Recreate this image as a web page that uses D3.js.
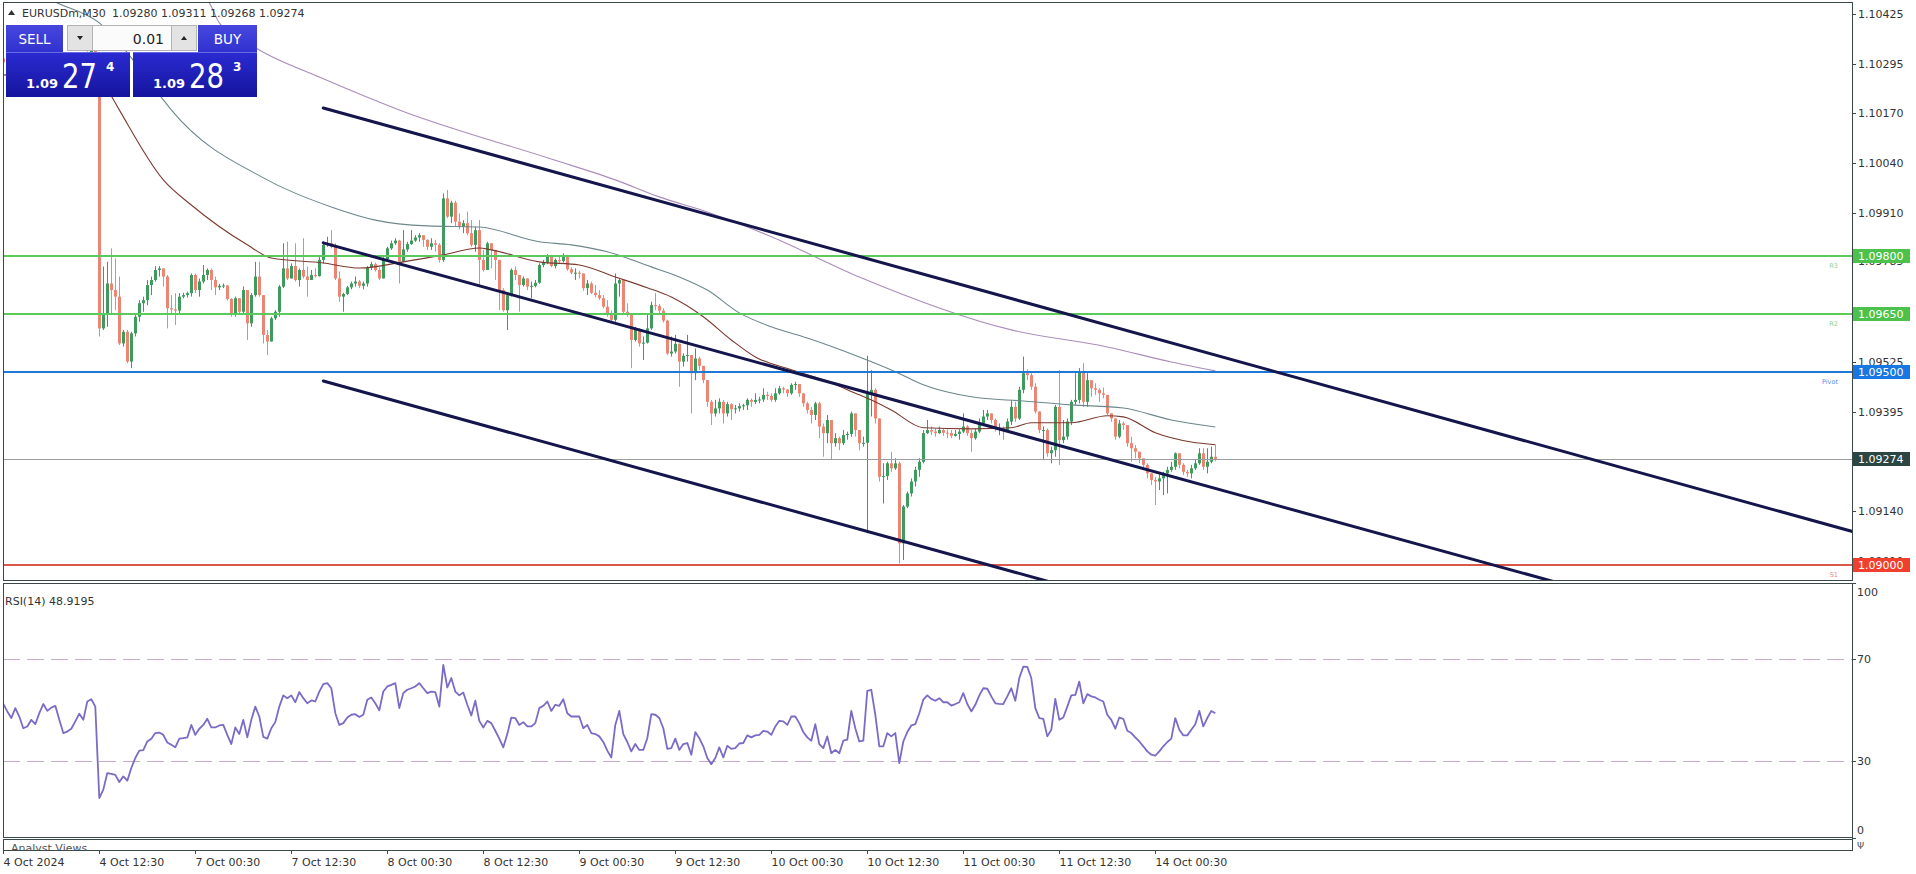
<!DOCTYPE html>
<html><head><meta charset="utf-8">
<script src="https://cdn.jsdelivr.net/npm/d3@7"></script>
<style>
html,body{margin:0;padding:0;background:#fff;overflow:hidden}
svg{display:block}
text{font-family:"DejaVu Sans",sans-serif}
</style></head><body>
<svg id="c" width="1916" height="874"></svg>
<script>
// ---------------- DATA ----------------
const symbol = "EURUSDm,M30";
const bid = "1.09274", ask = "1.09283", lot = "0.01";
const rsiLabel = "RSI(14) 48.9195";
const timeLabels = ["4 Oct 2024","4 Oct 12:30","7 Oct 00:30","7 Oct 12:30","8 Oct 00:30","8 Oct 12:30","9 Oct 00:30","9 Oct 12:30","10 Oct 00:30","10 Oct 12:30","11 Oct 00:30","11 Oct 12:30","14 Oct 00:30"];
const timeBars = [0,24,48,72,96,120,144,168,192,216,240,264,288];
const priceTicks = [1.10425,1.10295,1.10170,1.10040,1.09910,1.09785,1.09525,1.09395,1.09140,1.09010];
const rsiTicks = [100,70,30,0];
const rsiLevels = [70,30];
const levelPrices = [1.09800,1.09650,1.09500,1.09274,1.09000];
const levelTags = ["R3","R2","Pivot","","S1"];

const open = [
1.10310,1.10300,1.10285,1.10270,1.10290,1.10275,1.10240,1.10245,1.10265,1.10255,
1.10285,1.10310,1.10295,1.10305,1.10310,1.10275,1.10235,1.10240,1.10250,1.10270,
1.10290,1.10275,1.10320,1.10330,1.10315,1.09612,1.09651,1.09728,1.09711,1.09694,
1.09573,1.09603,1.09526,1.09599,1.09642,1.09677,1.09685,1.09724,1.09737,1.09763,
1.09767,1.09746,1.09664,1.09661,1.09658,1.09694,1.09698,1.09703,1.09750,1.09711,
1.09733,1.09750,1.09763,1.09737,1.09718,1.09722,1.09723,1.09688,1.09647,1.09690,
1.09655,1.09711,1.09625,1.09698,1.09746,1.09698,1.09595,1.09578,1.09638,1.09655,
1.09720,1.09767,1.09741,1.09773,1.09737,1.09763,1.09746,1.09737,1.09750,1.09747,
1.09789,1.09828,1.09832,1.09823,1.09741,1.09694,1.09701,1.09718,1.09728,1.09733,
1.09722,1.09728,1.09770,1.09778,1.09763,1.09741,1.09791,1.09819,1.09832,1.09839,
1.09784,1.09816,1.09830,1.09839,1.09847,1.09853,1.09841,1.09823,1.09832,1.09828,
1.09789,1.09948,1.09901,1.09937,1.09888,1.09875,1.09884,1.09858,1.09828,1.09866,
1.09789,1.09763,1.09832,1.09815,1.09789,1.09711,1.09659,1.09698,1.09763,1.09750,
1.09724,1.09741,1.09720,1.09722,1.09730,1.09776,1.09782,1.09797,1.09773,1.09789,
1.09786,1.09802,1.09765,1.09756,1.09756,1.09754,1.09716,1.09728,1.09704,1.09698,
1.09690,1.09668,1.09647,1.09634,1.09728,1.09737,1.09655,1.09647,1.09582,1.09608,
1.09573,1.09575,1.09612,1.09672,1.09670,1.09658,1.09632,1.09547,1.09552,1.09572,
1.09526,1.09541,1.09543,1.09496,1.09534,1.09515,1.09478,1.09422,1.09392,1.09405,
1.09422,1.09392,1.09416,1.09403,1.09405,1.09411,1.09413,1.09427,1.09422,1.09427,
1.09428,1.09440,1.09437,1.09427,1.09444,1.09457,1.09454,1.09444,1.09466,1.09468,
1.09444,1.09418,1.09401,1.09388,1.09418,1.09358,1.09341,1.09375,1.09315,1.09328,
1.09315,1.09336,1.09339,1.09392,1.09349,1.09315,1.09316,1.09444,1.09453,1.09379,
1.09228,1.09230,1.09263,1.09250,1.09263,1.09056,1.09151,1.09185,1.09216,1.09246,
1.09267,1.09341,1.09349,1.09345,1.09341,1.09349,1.09342,1.09341,1.09334,1.09339,
1.09345,1.09358,1.09341,1.09328,1.09345,1.09366,1.09384,1.09392,1.09375,1.09353,
1.09353,1.09349,1.09371,1.09409,1.09379,1.09453,1.09496,1.09491,1.09461,1.09397,
1.09349,1.09349,1.09289,1.09297,1.09409,1.09323,1.09332,1.09371,1.09422,1.09427,
1.09500,1.09422,1.09478,1.09457,1.09453,1.09444,1.09440,1.09392,1.09379,1.09332,
1.09366,1.09362,1.09315,1.09302,1.09293,1.09276,1.09259,1.09237,1.09220,1.09216,
1.09224,1.09237,1.09246,1.09254,1.09289,1.09259,1.09241,1.09237,1.09250,1.09263,
1.09289,1.09254,1.09267,1.09280];

const high = [
1.10318,1.10310,1.10292,1.10300,1.10296,1.10280,1.10262,1.10275,1.10272,1.10292,
1.10318,1.10316,1.10312,1.10322,1.10315,1.10280,1.10255,1.10262,1.10278,1.10298,
1.10296,1.10328,1.10342,1.10336,1.10320,1.09772,1.09784,1.09819,1.09793,1.09746,
1.09608,1.09608,1.09603,1.09647,1.09685,1.09694,1.09737,1.09746,1.09773,1.09773,
1.09767,1.09750,1.09698,1.09703,1.09703,1.09704,1.09707,1.09754,1.09754,1.09741,
1.09776,1.09767,1.09767,1.09746,1.09727,1.09728,1.09724,1.09690,1.09694,1.09690,
1.09720,1.09711,1.09703,1.09784,1.09784,1.09698,1.09608,1.09642,1.09659,1.09724,
1.09832,1.09836,1.09780,1.09832,1.09767,1.09845,1.09772,1.09763,1.09767,1.09797,
1.09836,1.09849,1.09866,1.09832,1.09759,1.09704,1.09722,1.09733,1.09746,1.09737,
1.09733,1.09773,1.09784,1.09782,1.09770,1.09796,1.09823,1.09839,1.09845,1.09841,
1.09866,1.09836,1.09866,1.09853,1.09858,1.09853,1.09842,1.09845,1.09841,1.09832,
1.09961,1.09970,1.09942,1.09942,1.09909,1.09892,1.09914,1.09892,1.09875,1.09892,
1.09815,1.09836,1.09832,1.09815,1.09789,1.09716,1.09703,1.09767,1.09772,1.09750,
1.09746,1.09741,1.09733,1.09737,1.09780,1.09789,1.09804,1.09797,1.09793,1.09797,
1.09806,1.09797,1.09770,1.09767,1.09761,1.09754,1.09737,1.09733,1.09724,1.09711,
1.09698,1.09685,1.09659,1.09754,1.09741,1.09733,1.09677,1.09651,1.09616,1.09612,
1.09591,1.09651,1.09681,1.09703,1.09675,1.09664,1.09634,1.09591,1.09595,1.09573,
1.09547,1.09595,1.09539,1.09560,1.09539,1.09513,1.09478,1.09427,1.09427,1.09431,
1.09427,1.09422,1.09418,1.09414,1.09418,1.09417,1.09431,1.09431,1.09444,1.09435,
1.09457,1.09448,1.09444,1.09457,1.09463,1.09461,1.09452,1.09470,1.09474,1.09466,
1.09444,1.09422,1.09409,1.09422,1.09422,1.09366,1.09388,1.09375,1.09341,1.09332,
1.09349,1.09345,1.09397,1.09388,1.09349,1.09332,1.09541,1.09504,1.09457,1.09379,
1.09263,1.09267,1.09293,1.09276,1.09267,1.09155,1.09190,1.09224,1.09254,1.09276,
1.09349,1.09375,1.09358,1.09353,1.09358,1.09353,1.09351,1.09349,1.09349,1.09351,
1.09392,1.09362,1.09349,1.09353,1.09379,1.09401,1.09401,1.09392,1.09379,1.09366,
1.09358,1.09379,1.09427,1.09422,1.09461,1.09539,1.09506,1.09500,1.09470,1.09397,
1.09358,1.09353,1.09306,1.09414,1.09504,1.09375,1.09379,1.09427,1.09496,1.09509,
1.09522,1.09496,1.09474,1.09470,1.09457,1.09459,1.09435,1.09392,1.09379,1.09375,
1.09371,1.09362,1.09332,1.09310,1.09293,1.09272,1.09263,1.09237,1.09228,1.09237,
1.09241,1.09254,1.09267,1.09291,1.09289,1.09263,1.09246,1.09259,1.09272,1.09302,
1.09302,1.09302,1.09306,1.09311];

const low = [
1.10276,1.10270,1.10258,1.10262,1.10265,1.10232,1.10228,1.10240,1.10246,1.10250,
1.10280,1.10288,1.10290,1.10298,1.10268,1.10226,1.10225,1.10230,1.10244,1.10262,
1.10270,1.10272,1.10318,1.10308,1.09591,1.09608,1.09616,1.09651,1.09659,1.09569,
1.09565,1.09522,1.09509,1.09591,1.09629,1.09655,1.09672,1.09698,1.09733,1.09746,
1.09720,1.09612,1.09651,1.09621,1.09651,1.09690,1.09692,1.09694,1.09703,1.09694,
1.09728,1.09737,1.09711,1.09698,1.09711,1.09716,1.09684,1.09642,1.09642,1.09651,
1.09651,1.09582,1.09616,1.09694,1.09694,1.09573,1.09543,1.09578,1.09634,1.09642,
1.09716,1.09737,1.09741,1.09733,1.09720,1.09741,1.09694,1.09737,1.09744,1.09746,
1.09780,1.09823,1.09819,1.09737,1.09681,1.09655,1.09698,1.09713,1.09720,1.09716,
1.09713,1.09720,1.09763,1.09759,1.09737,1.09741,1.09787,1.09815,1.09828,1.09728,
1.09784,1.09810,1.09828,1.09836,1.09836,1.09823,1.09815,1.09815,1.09810,1.09782,
1.09784,1.09897,1.09884,1.09875,1.09868,1.09858,1.09853,1.09823,1.09810,1.09720,
1.09759,1.09772,1.09767,1.09737,1.09659,1.09655,1.09608,1.09694,1.09737,1.09655,
1.09720,1.09711,1.09690,1.09718,1.09727,1.09770,1.09778,1.09770,1.09767,1.09780,
1.09782,1.09761,1.09752,1.09737,1.09741,1.09709,1.09698,1.09701,1.09692,1.09685,
1.09664,1.09642,1.09629,1.09629,1.09694,1.09651,1.09642,1.09509,1.09578,1.09565,
1.09530,1.09573,1.09608,1.09659,1.09651,1.09627,1.09543,1.09539,1.09547,1.09461,
1.09513,1.09526,1.09392,1.09478,1.09504,1.09470,1.09409,1.09362,1.09384,1.09392,
1.09366,1.09384,1.09375,1.09392,1.09397,1.09401,1.09401,1.09409,1.09416,1.09418,
1.09422,1.09427,1.09422,1.09422,1.09440,1.09444,1.09435,1.09440,1.09453,1.09435,
1.09409,1.09392,1.09366,1.09375,1.09328,1.09280,1.09315,1.09272,1.09306,1.09297,
1.09310,1.09324,1.09332,1.09332,1.09297,1.09306,1.09082,1.09384,1.09366,1.09216,
1.09159,1.09220,1.09241,1.09246,1.09004,1.09013,1.09147,1.09177,1.09203,1.09228,
1.09263,1.09339,1.09336,1.09332,1.09339,1.09334,1.09328,1.09328,1.09332,1.09324,
1.09341,1.09334,1.09293,1.09324,1.09341,1.09362,1.09375,1.09366,1.09345,1.09336,
1.09324,1.09345,1.09362,1.09370,1.09375,1.09444,1.09478,1.09453,1.09392,1.09341,
1.09272,1.09280,1.09263,1.09280,1.09259,1.09315,1.09324,1.09362,1.09414,1.09418,
1.09409,1.09409,1.09435,1.09440,1.09422,1.09431,1.09388,1.09370,1.09324,1.09328,
1.09349,1.09306,1.09267,1.09276,1.09263,1.09246,1.09224,1.09207,1.09155,1.09194,
1.09181,1.09185,1.09241,1.09246,1.09250,1.09233,1.09228,1.09224,1.09246,1.09259,
1.09246,1.09237,1.09263,1.09268];

const close = [
1.10300,1.10285,1.10270,1.10290,1.10275,1.10240,1.10245,1.10265,1.10255,1.10285,
1.10310,1.10295,1.10305,1.10310,1.10275,1.10235,1.10240,1.10250,1.10270,1.10290,
1.10275,1.10320,1.10330,1.10315,1.09612,1.09651,1.09728,1.09711,1.09694,1.09573,
1.09603,1.09526,1.09599,1.09642,1.09677,1.09685,1.09724,1.09737,1.09763,1.09767,
1.09746,1.09664,1.09661,1.09658,1.09694,1.09698,1.09703,1.09750,1.09711,1.09733,
1.09750,1.09763,1.09737,1.09718,1.09722,1.09723,1.09688,1.09647,1.09690,1.09655,
1.09711,1.09625,1.09698,1.09746,1.09698,1.09595,1.09578,1.09638,1.09655,1.09720,
1.09767,1.09741,1.09773,1.09737,1.09763,1.09746,1.09737,1.09750,1.09747,1.09789,
1.09828,1.09832,1.09823,1.09741,1.09694,1.09701,1.09718,1.09728,1.09733,1.09722,
1.09728,1.09770,1.09778,1.09763,1.09741,1.09791,1.09819,1.09832,1.09839,1.09784,
1.09816,1.09830,1.09839,1.09847,1.09853,1.09841,1.09823,1.09832,1.09828,1.09789,
1.09948,1.09901,1.09937,1.09888,1.09875,1.09884,1.09858,1.09828,1.09866,1.09789,
1.09763,1.09832,1.09815,1.09789,1.09711,1.09659,1.09698,1.09763,1.09750,1.09724,
1.09741,1.09720,1.09722,1.09730,1.09776,1.09782,1.09797,1.09773,1.09789,1.09786,
1.09802,1.09765,1.09756,1.09756,1.09754,1.09716,1.09728,1.09704,1.09698,1.09690,
1.09668,1.09647,1.09634,1.09728,1.09737,1.09655,1.09647,1.09582,1.09608,1.09573,
1.09575,1.09612,1.09672,1.09670,1.09658,1.09632,1.09547,1.09552,1.09572,1.09526,
1.09541,1.09543,1.09496,1.09534,1.09515,1.09478,1.09422,1.09392,1.09405,1.09422,
1.09392,1.09416,1.09403,1.09405,1.09411,1.09413,1.09427,1.09422,1.09427,1.09428,
1.09440,1.09437,1.09427,1.09444,1.09457,1.09454,1.09444,1.09466,1.09468,1.09444,
1.09418,1.09401,1.09388,1.09418,1.09358,1.09341,1.09375,1.09315,1.09328,1.09315,
1.09336,1.09339,1.09392,1.09349,1.09315,1.09316,1.09444,1.09453,1.09379,1.09228,
1.09230,1.09263,1.09250,1.09263,1.09056,1.09151,1.09185,1.09216,1.09246,1.09267,
1.09341,1.09349,1.09345,1.09341,1.09349,1.09342,1.09341,1.09334,1.09339,1.09345,
1.09358,1.09341,1.09328,1.09345,1.09366,1.09384,1.09392,1.09375,1.09353,1.09353,
1.09349,1.09371,1.09409,1.09379,1.09453,1.09496,1.09491,1.09461,1.09397,1.09349,
1.09349,1.09289,1.09297,1.09409,1.09323,1.09332,1.09371,1.09422,1.09427,1.09500,
1.09422,1.09478,1.09457,1.09453,1.09444,1.09440,1.09392,1.09379,1.09332,1.09366,
1.09362,1.09315,1.09302,1.09293,1.09276,1.09259,1.09237,1.09220,1.09216,1.09224,
1.09237,1.09246,1.09254,1.09289,1.09259,1.09241,1.09237,1.09250,1.09263,1.09289,
1.09254,1.09267,1.09280,1.09274];

const rsi = [
52.4,49.5,46.9,50.8,47.5,42.9,43.6,46.2,44.5,48.8,
52.4,49.7,51.0,51.7,46.2,41.0,41.6,42.7,45.6,48.6,
46.2,53.4,54.3,51.4,15.5,18.8,25.3,25.0,24.6,21.8,
24.0,22.3,27.3,31.2,34.1,34.3,37.7,38.8,41.0,41.2,
40.3,37.3,36.4,35.4,38.8,39.0,39.3,44.2,40.3,42.7,
44.2,46.6,43.2,43.2,44.0,44.2,40.3,36.7,43.2,40.6,
46.2,39.3,46.2,51.4,47.5,39.5,38.8,42.9,45.3,51.4,
55.8,54.7,55.8,53.1,57.1,54.7,52.7,53.8,53.4,57.3,
60.2,60.6,58.6,48.8,44.2,44.9,47.1,48.2,48.4,47.3,
48.2,54.1,55.0,52.7,49.9,57.3,59.3,59.9,60.6,50.8,
56.7,58.0,58.6,59.3,60.6,58.6,56.7,57.3,57.1,51.4,
67.8,58.9,62.6,57.3,55.8,56.9,52.1,47.9,53.7,45.8,
43.2,45.8,44.9,41.9,38.8,35.4,40.6,47.1,46.9,44.2,
45.3,43.6,43.6,44.9,50.8,51.7,53.4,49.7,52.1,51.7,
54.3,48.8,47.5,47.5,47.5,42.9,44.2,41.0,40.6,39.7,
37.5,34.1,31.4,44.2,49.7,40.6,37.5,33.8,36.7,34.4,
34.4,39.0,48.4,48.2,46.9,42.9,34.8,35.1,38.8,34.4,
36.7,37.1,32.5,41.4,39.0,35.8,31.2,28.8,31.2,35.4,
31.4,36.0,34.8,35.1,36.9,37.1,40.1,39.3,40.1,40.3,
41.9,41.6,40.3,43.6,45.8,45.6,44.2,47.5,47.5,44.9,
41.4,39.3,38.0,44.5,36.7,35.1,39.7,33.1,34.4,33.1,
38.0,38.4,49.7,42.9,37.7,38.0,57.6,58.0,48.2,35.8,
35.8,41.0,39.7,41.0,29.2,37.7,41.4,44.0,44.5,48.8,
54.1,55.8,54.4,53.7,54.7,53.1,53.1,51.8,52.4,53.1,
56.7,52.4,49.5,52.1,55.8,58.6,58.4,55.4,52.7,52.5,
52.4,55.4,58.6,53.7,62.6,67.1,67.0,62.6,50.8,46.9,
46.6,39.7,42.3,54.4,46.2,47.1,51.4,55.8,56.0,61.2,
52.7,56.3,55.4,55.0,54.1,53.4,48.2,46.2,42.7,47.1,
46.6,41.9,41.0,39.3,37.7,35.8,33.8,32.5,32.1,33.8,
35.8,37.5,38.8,46.9,42.3,40.1,40.1,42.3,44.5,49.7,
43.6,46.9,49.7,48.8];

// moving averages: [bar index, price]
const maFast = [[0,1.10267],[23,1.10280],[27,1.10213],[29,1.10177],[40,1.09996],[47,1.09931],[61,1.09828],[67,1.09794],[80,1.09781],[89,1.09768],[100,1.09784],[110,1.09802],[119,1.09820],[122,1.09815],[134,1.09784],[144,1.09776],[153,1.09745],[161,1.09717],[167,1.09693],[175,1.09642],[182,1.09582],[188,1.09538],[197,1.09505],[205,1.09479],[214,1.09440],[217,1.09427],[222,1.09401],[230,1.09355],[242,1.09352],[252,1.09355],[257,1.09368],[267,1.09368],[276,1.09386],[280,1.09383],[288,1.09342],[297,1.09318],[303,1.09311]];
const maMid = [[0,1.10539],[12,1.10461],[24,1.10402],[40,1.10203],[42,1.10177],[66,1.09996],[82,1.09926],[93,1.09892],[106,1.09877],[119,1.09874],[134,1.09836],[142,1.09828],[151,1.09810],[162,1.09771],[169,1.09745],[176,1.09711],[184,1.09652],[192,1.09616],[201,1.09587],[214,1.09538],[223,1.09500],[230,1.09466],[242,1.09435],[255,1.09424],[267,1.09414],[280,1.09406],[292,1.09375],[303,1.09357]];
const maSlow = [[0,1.10694],[40,1.10512],[51,1.10461],[54,1.10402],[64,1.10332],[79,1.10262],[99,1.10177],[137,1.10050],[153,1.09996],[164,1.09952],[176,1.09913],[192,1.09849],[214,1.09745],[252,1.09608],[276,1.09564],[292,1.09525],[303,1.09502]];

// channel trend lines: two anchors each [bar index, price]
const channelUpper = [[80,1.10182],[303,1.09543]];
const channelMiddle = [[80,1.09833],[303,1.09198]];
const channelLower = [[80,1.09476],[303,1.08838]];

// ---------------- STYLE / LAYOUT ----------------
const L = 3, R = 1852, MT = 2, MB = 580, RT = 583, RB = 837, P3T = 839, P3B = 850;
const FRAME = "#3a4848", TXT = "#333";
const UP = "#3d9b5e", DN = "#ec8573";
const levelStyle = [
  {line:"#5cc95c", box:"#4cc24c", w:2, tag:"#8fd08f"},
  {line:"#5cc95c", box:"#4cc24c", w:2, tag:"#8fd08f"},
  {line:"#1f78d6", box:"#1877e0", w:2, tag:"#4a8fe0"},
  {line:"#9a9e9e", box:"#2b4541", w:1, tag:"#999"},
  {line:"#d9574b", box:"#f03e2f", w:2, tag:"#e08a80"}
];

const svg = d3.select("#c");
const defs = svg.append("defs");
defs.append("clipPath").attr("id","clipMain").append("rect").attr("x",L).attr("y",MT).attr("width",R-L).attr("height",MB-MT);
defs.append("clipPath").attr("id","clipRsi").append("rect").attr("x",L).attr("y",RT).attr("width",R-L).attr("height",RB-RT);
defs.append("clipPath").attr("id","clipP3").append("rect").attr("x",L).attr("y",P3T).attr("width",R-L).attr("height",P3B-P3T);

const x = d3.scaleLinear().domain([0,303]).range([3.3,1215.3]);
const bx = j => Math.round(x(j));
const y = d3.scaleLinear().domain([1.09000,1.10425]).range([565,14]);
const yr = d3.scaleLinear().domain([0,100]).range([837.5,582.8]);
const fmt5 = d3.format(".5f");

// ---------- main panel ----------
const gMain = svg.append("g").attr("clip-path","url(#clipMain)");

const cand = gMain.append("g").selectAll("g").data(close.map((c,j)=>({j,o:open[j],h:high[j],l:low[j],c})))
  .join("g");
cand.append("line")
  .attr("x1",d=>bx(d.j)+0.5).attr("x2",d=>bx(d.j)+0.5)
  .attr("y1",d=>y(Math.max(d.h,d.o,d.c))).attr("y2",d=>y(Math.min(d.l,d.o,d.c)))
  .attr("stroke",d=>d.c>=d.o?UP:DN).attr("stroke-width",1);
cand.append("rect")
  .attr("x",d=>bx(d.j)-1).attr("width",3)
  .attr("y",d=>y(Math.max(d.o,d.c)))
  .attr("height",d=>Math.max(1,y(Math.min(d.o,d.c))-y(Math.max(d.o,d.c))))
  .attr("fill",d=>d.c>=d.o?UP:DN);

const maLine = d3.line().x(d=>x(d[0])).y(d=>y(d[1])).curve(d3.curveMonotoneX);
gMain.append("path").attr("d",maLine(maSlow)).attr("fill","none").attr("stroke","#a98cbb").attr("stroke-width",1.1);
gMain.append("path").attr("d",maLine(maMid)).attr("fill","none").attr("stroke","#6c878c").attr("stroke-width",1.1);
gMain.append("path").attr("d",maLine(maFast)).attr("fill","none").attr("stroke","#7b3a2f").attr("stroke-width",1.1);

levelPrices.forEach((p,i)=>{
  const st = levelStyle[i], yy = Math.round(y(p)) + (st.w===1?0.5:0);
  gMain.append("line").attr("x1",L).attr("x2",R).attr("y1",yy).attr("y2",yy)
    .attr("stroke",st.line).attr("stroke-width",st.w);
  if (levelTags[i]) gMain.append("text").attr("x",R-14).attr("y",yy+12).attr("text-anchor","end")
    .attr("font-size",6.5).attr("fill",st.tag).text(levelTags[i]);
});

[channelUpper,channelMiddle,channelLower].forEach(ch=>{
  const [a,b] = ch;
  const jEnd = x.invert(R+5);
  const pEnd = a[1] + (b[1]-a[1])*(jEnd-a[0])/(b[0]-a[0]);
  gMain.append("line").attr("x1",x(a[0])).attr("y1",y(a[1])).attr("x2",x(jEnd)).attr("y2",y(pEnd))
    .attr("stroke","#15154d").attr("stroke-width",3).attr("stroke-linecap","round");
});

// ---------- RSI panel ----------
const gRsi = svg.append("g").attr("clip-path","url(#clipRsi)");
rsiLevels.forEach(v=>{
  gRsi.append("line").attr("x1",L).attr("x2",R).attr("y1",Math.round(yr(v))+0.5).attr("y2",Math.round(yr(v))+0.5)
    .attr("stroke","#c9a9cc").attr("stroke-width",1).attr("stroke-dasharray","17,7");
});
gRsi.append("path").attr("d",d3.line().x((d,j)=>x(j)).y(d=>yr(d))(rsi))
  .attr("fill","none").attr("stroke","#7a6bc6").attr("stroke-width",1.8).attr("stroke-linejoin","round");
svg.append("text").attr("x",5).attr("y",605).attr("font-size",11).attr("fill",TXT).text(rsiLabel);

// ---------- third panel ----------
const gP3 = svg.append("g").attr("clip-path","url(#clipP3)");
gP3.append("text").attr("x",11).attr("y",852).attr("font-size",11).attr("fill","#555").text("Analyst Views");

// ---------- frames ----------
const frame = svg.append("g").attr("fill","none").attr("stroke",FRAME).attr("stroke-width",1);
[[MT,MB],[RT,RB],[P3T,P3B]].forEach(([t,b])=>{
  frame.append("rect").attr("x",L+0.5).attr("y",t+0.5).attr("width",R-L).attr("height",b-t);
});

// ---------- price axis ----------
const ax = svg.append("g");
priceTicks.forEach(p=>{
  const yy = Math.round(y(p))+0.5;
  ax.append("line").attr("x1",R).attr("x2",R+4).attr("y1",yy).attr("y2",yy).attr("stroke",FRAME);
  ax.append("text").attr("x",R+6).attr("y",yy).attr("dy","0.36em").attr("font-size",11).attr("fill",TXT).text(fmt5(p));
});
levelPrices.forEach((p,i)=>{
  const yy = Math.round(y(p));
  ax.append("rect").attr("x",R+1).attr("y",yy-7).attr("width",57).attr("height",14).attr("fill",levelStyle[i].box);
  ax.append("text").attr("x",R+6).attr("y",yy).attr("dy","0.36em").attr("font-size",11).attr("fill","#fff").text(fmt5(p));
});
rsiTicks.forEach(v=>{
  const yy = Math.round(yr(v))+0.5;
  const off = v===100 ? 9 : (v===0 ? -8 : 0);
  ax.append("line").attr("x1",R).attr("x2",R+4).attr("y1",yy).attr("y2",yy).attr("stroke",FRAME);
  ax.append("text").attr("x",R+5).attr("y",yy+off).attr("dy","0.36em").attr("font-size",11).attr("fill",TXT).text(v);
});
ax.append("text").attr("x",R+5).attr("y",849).attr("font-size",9).attr("fill","#555").text("Ψ");

// ---------- time axis ----------
timeBars.forEach((b,i)=>{
  const xx = bx(b)+0.5;
  ax.append("line").attr("x1",xx).attr("x2",xx).attr("y1",P3B).attr("y2",P3B+4).attr("stroke",FRAME);
  ax.append("text").attr("x",xx).attr("y",866).attr("font-size",11).attr("fill",TXT).text(timeLabels[i]);
});

// ---------- header ----------
svg.append("path").attr("d","M8,15 L11.5,10 L15,15 Z").attr("fill","#333");
svg.append("text").attr("x",22).attr("y",17).attr("font-size",11).attr("fill",TXT).text(symbol);
const last = close.length-1;
svg.append("text").attr("x",112).attr("y",17).attr("font-size",11).attr("fill",TXT)
  .text([open[last],high[last],low[last],close[last]].map(fmt5).join(" "));

// ---------- trading panel ----------
const gB = defs.append("linearGradient").attr("id","gBtn").attr("x1",0).attr("x2",0).attr("y1",0).attr("y2",1);
gB.append("stop").attr("offset",0).attr("stop-color","#4747df");
gB.append("stop").attr("offset",1).attr("stop-color","#3131cf");
const gP = defs.append("linearGradient").attr("id","gPx").attr("x1",0).attr("x2",0).attr("y1",0).attr("y2",1);
gP.append("stop").attr("offset",0).attr("stop-color","#2b2bd2");
gP.append("stop").attr("offset",1).attr("stop-color","#14149d");
const tp = svg.append("g");
tp.append("rect").attr("x",6).attr("y",25).attr("width",57).attr("height",27).attr("fill","url(#gBtn)");
tp.append("rect").attr("x",198).attr("y",25).attr("width",59).attr("height",27).attr("fill","url(#gBtn)");
tp.append("rect").attr("x",6).attr("y",52).attr("width",124).attr("height",45).attr("fill","url(#gPx)");
tp.append("rect").attr("x",133).attr("y",52).attr("width",124).attr("height",45).attr("fill","url(#gPx)");
tp.append("line").attr("x1",6).attr("x2",130).attr("y1",52.5).attr("y2",52.5).attr("stroke","#6a6ae6");
tp.append("line").attr("x1",133).attr("x2",257).attr("y1",52.5).attr("y2",52.5).attr("stroke","#6a6ae6");
tp.append("rect").attr("x",67.5).attr("y",25.5).attr("width",129).attr("height",25).attr("fill","#fbfbfb").attr("stroke","#b4b4b4");
tp.append("rect").attr("x",67.5).attr("y",25.5).attr("width",25).attr("height",25).attr("fill","#e3e3e3").attr("stroke","#b4b4b4");
tp.append("rect").attr("x",171.5).attr("y",25.5).attr("width",25).attr("height",25).attr("fill","#e3e3e3").attr("stroke","#b4b4b4");
tp.append("path").attr("d","M77,36 L83,36 L80,40 Z").attr("fill","#222");
tp.append("path").attr("d","M181,40 L187,40 L184,36 Z").attr("fill","#222");
tp.append("text").attr("x",164).attr("y",44).attr("text-anchor","end").attr("font-size",14).attr("fill","#222").text(lot);
tp.append("text").attr("x",34.5).attr("y",44).attr("text-anchor","middle").attr("font-size",13.5).attr("fill","#fff").text("SELL");
tp.append("text").attr("x",227.5).attr("y",44).attr("text-anchor","middle").attr("font-size",13.5).attr("fill","#fff").text("BUY");
function priceBox(px, x0){
  const big = px.slice(4,6), small = px.slice(0,4), pip = px.slice(6);
  tp.append("text").attr("x",x0).attr("y",88).attr("font-size",13).attr("font-weight","bold").attr("fill","#fff").text(small);
  tp.append("text").attr("x",x0+36).attr("y",88).attr("font-size",33).attr("font-family","'Open Sans',sans-serif")
    .attr("textLength",35).attr("lengthAdjust","spacingAndGlyphs").attr("fill","#fff").text(big);
  tp.append("text").attr("x",x0+80).attr("y",71).attr("font-size",12).attr("font-weight","bold").attr("fill","#fff").text(pip);
}
priceBox(bid, 26);
priceBox(ask, 153);

const n = close.length;
if ([open,high,low,rsi].some(a=>a.length!==n) || n!==304) {
  throw new Error("length mismatch " + [open.length,high.length,low.length,close.length,rsi.length].join(","));
}
</script></body></html>
